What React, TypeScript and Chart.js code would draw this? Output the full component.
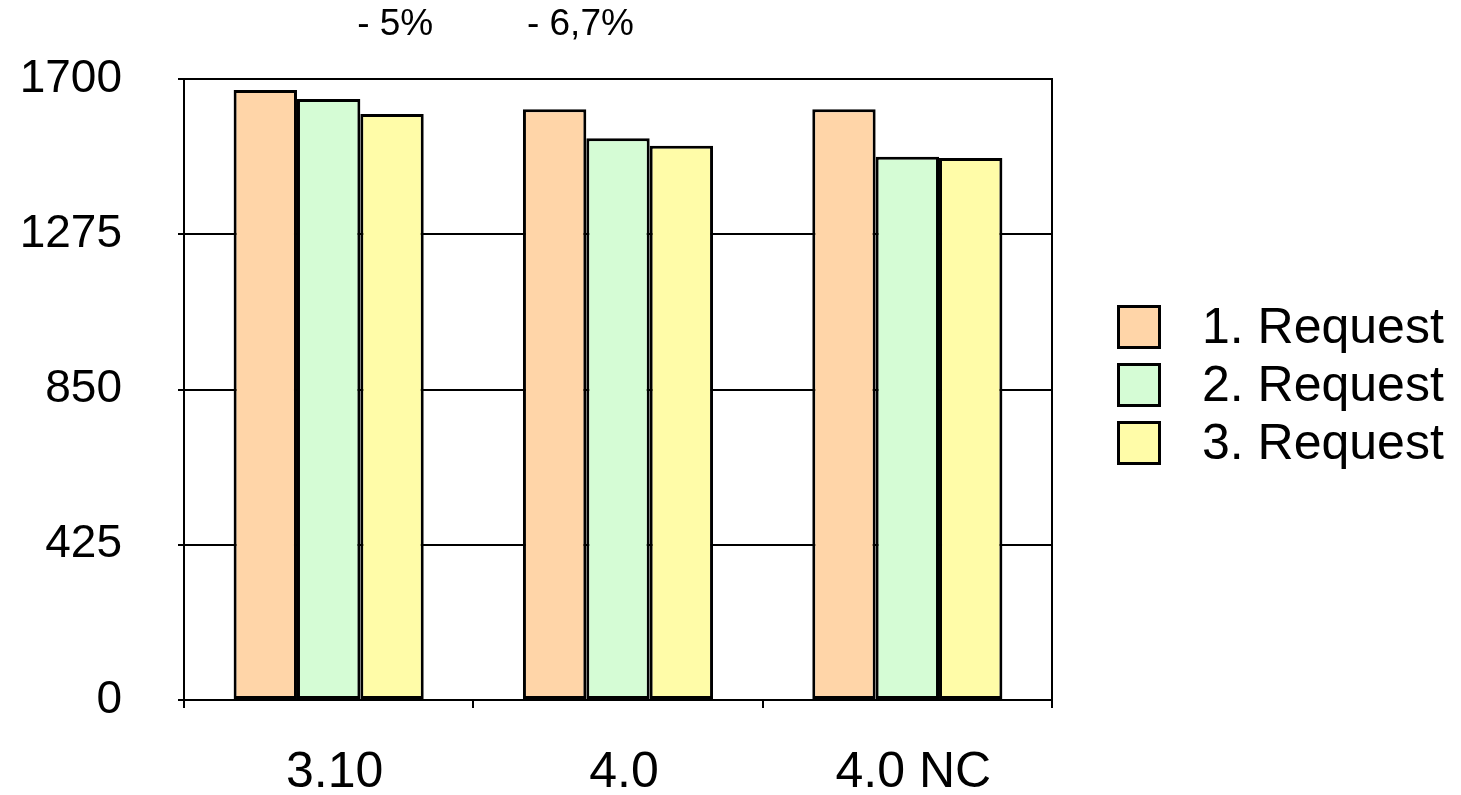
import React, { useEffect, useRef } from "react";
import { Chart, registerables } from "chart.js";

Chart.register(...registerables);

const categories = ["3.10", "4.0", "4.0 NC"];
const seriesNames = ["1. Request", "2. Request", "3. Request"];
const request1 = [1670, 1617, 1617];
const request2 = [1645, 1538, 1487];
const request3 = [1604, 1517, 1484];
const yTicks = [0, 425, 850, 1275, 1700];
const notes = ["- 5%", "- 6,7%"];

const colors = ["#FFD5A8", "#D5FCD5", "#FFFCA8"];
const FONT = "'Liberation Sans', Arial, Helvetica, sans-serif";

const framePlugin = {
  id: "frame",
  afterDraw(chart: any) {
    const { ctx, chartArea } = chart;
    ctx.save();
    ctx.strokeStyle = "#000";
    ctx.lineWidth = 2;
    ctx.beginPath();
    ctx.moveTo(chartArea.left, chartArea.top);
    ctx.lineTo(chartArea.right, chartArea.top);
    ctx.lineTo(chartArea.right, chartArea.bottom);
    ctx.stroke();

    // legend
    const sets = chart.data.datasets;
    const boxX = chartArea.right + 65;
    const boxSize = 44;
    const top0 = 305;
    const step = 58;
    ctx.font = `50px ${FONT}`;
    ctx.textBaseline = "middle";
    ctx.textAlign = "left";
    sets.forEach((ds: any, i: number) => {
      const y = top0 + i * step;
      ctx.fillStyle = ds.backgroundColor;
      ctx.fillRect(boxX, y, boxSize, boxSize);
      ctx.lineWidth = 3;
      ctx.strokeStyle = "#000";
      ctx.strokeRect(boxX + 1.5, y + 1.5, boxSize - 3, boxSize - 3);
      ctx.fillStyle = "#000";
      ctx.fillText(ds.label, boxX + 85, y + boxSize / 2 + 2);
    });

    // annotations above the plot
    const xs = chart.scales.x;
    const w = xs.getPixelForValue(1) - xs.getPixelForValue(0);
    ctx.font = `37px ${FONT}`;
    ctx.textAlign = "center";
    ctx.fillText(notes[0], xs.getPixelForValue(0) + w * 0.23, 25);
    ctx.fillText(notes[1], xs.getPixelForValue(1) - w * 0.13, 25);
    ctx.restore();
  },
};

export default function App() {
  const ref = useRef<HTMLCanvasElement>(null);
  useEffect(() => {
    document.body.style.margin = "0";
    const chart = new Chart(ref.current!, {
      type: "bar",
      data: {
        labels: categories,
        datasets: [request1, request2, request3].map((d, i) => ({
          label: seriesNames[i],
          data: d,
          backgroundColor: colors[i],
          borderColor: "#000",
          borderWidth: 3,
          borderSkipped: false,
          categoryPercentage: 0.657,
          barPercentage: 1.0,
        })),
      },
      options: {
        animation: false,
        responsive: false,
        layout: { padding: { left: 0, top: 79, right: 409, bottom: 0 } },
        plugins: { legend: { display: false }, tooltip: { enabled: false } },
        scales: {
          x: {
            afterFit: (s: any) => {
              s.height = 95;
              s.paddingLeft = 0;
              s.paddingRight = 0;
            },
            grid: {
              offset: true,
              drawOnChartArea: false,
              drawTicks: true,
              tickLength: 8,
              color: "#000",
              lineWidth: 2,
            },
            border: { color: "#000", width: 2 },
            ticks: {
              color: "#000",
              padding: 35,
              labelOffset: 6,
              font: { family: FONT, size: 50 },
            },
          },
          y: {
            min: 0,
            max: 1700,
            afterFit: (s: any) => {
              s.width = 184;
              s.paddingTop = 0;
              s.paddingBottom = 0;
            },
            afterBuildTicks: (s: any) => {
              s.ticks = yTicks.map((v) => ({ value: v }));
            },
            grid: {
              color: "#000",
              lineWidth: 2,
              tickLength: 6,
            },
            border: { color: "#000", width: 2 },
            ticks: {
              color: "#000",
              padding: 56,
              font: { family: FONT, size: 46 },
              callback: (v: any) => String(v),
            },
          },
        },
      },
      plugins: [framePlugin],
    });
    return () => chart.destroy();
  }, []);
  return (
    <div style={{ width: 1461, height: 795, background: "#fff" }}>
      <canvas ref={ref} width={1461} height={795} />
    </div>
  );
}
